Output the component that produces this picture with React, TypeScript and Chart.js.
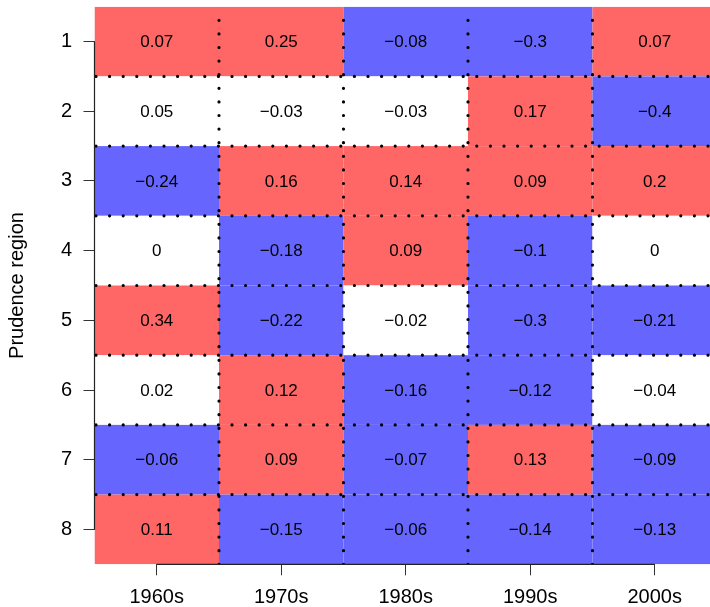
import { useEffect, useRef } from 'react';
import { Chart, registerables } from 'chart.js';

Chart.register(...registerables);

// ---- data ----
const decades = ['1960s', '1970s', '1980s', '1990s', '2000s'];
const regions = [1, 2, 3, 4, 5, 6, 7, 8];
// values per decade, listed for regions 1..8
const v1960s = [0.07, 0.05, -0.24, 0, 0.34, 0.02, -0.06, 0.11];
const v1970s = [0.25, -0.03, 0.16, -0.18, -0.22, 0.12, 0.09, -0.15];
const v1980s = [-0.08, -0.03, 0.14, 0.09, -0.02, -0.16, -0.07, -0.06];
const v1990s = [-0.3, 0.17, 0.09, -0.1, -0.3, -0.12, 0.13, -0.14];
const v2000s = [0.07, -0.4, 0.2, 0, -0.21, -0.04, -0.09, -0.13];
const valuesByDecade = [v1960s, v1970s, v1980s, v1990s, v2000s];
const threshold = 0.05;

const RED = '#FF6666';
const BLUE = '#6666FF';
const FONT = "'Liberation Sans', Arial, Helvetica, sans-serif";
const X_MAX = 5.444;

function fmt(v: number): string {
  return String(v).replace('-', '\u2212');
}

const heatmapPlugin = {
  id: 'heatmap',
  beforeDatasetsDraw(chart: any) {
    const { ctx, chartArea, scales } = chart;
    const x = scales.x;
    const y = scales.y;
    const data = chart.data.datasets[0].data as any[];
    ctx.save();
    ctx.beginPath();
    ctx.rect(chartArea.left, chartArea.top, chartArea.right - chartArea.left, chartArea.bottom - chartArea.top);
    ctx.clip();
    // cells
    data.forEach((p) => {
      const x0 = x.getPixelForValue(p.x - 0.5);
      const x1 = x.getPixelForValue(p.x + 0.5);
      const y0 = y.getPixelForValue(p.y - 0.5);
      const y1 = y.getPixelForValue(p.y + 0.5);
      const col = p.v > threshold ? RED : p.v < -threshold ? BLUE : '#FFFFFF';
      ctx.fillStyle = col;
      ctx.fillRect(Math.min(x0, x1), Math.min(y0, y1), Math.abs(x1 - x0), Math.abs(y1 - y0));
    });
    // dotted grid lines at cell boundaries
    ctx.strokeStyle = '#000';
    ctx.lineWidth = 3.2;
    ctx.lineCap = 'round';
    ctx.setLineDash([0, 13.6]);
    const yb = y.getPixelForValue(regions.length + 0.5);
    const yt = y.getPixelForValue(0.5);
    for (let i = 1; i < decades.length; i++) {
      const px = x.getPixelForValue(i + 0.5);
      ctx.beginPath();
      ctx.moveTo(px, yb);
      ctx.lineTo(px, yt);
      ctx.stroke();
    }
    const xl = x.getPixelForValue(0.5) + 1.5;
    const xr = x.getPixelForValue(decades.length + 0.5);
    for (let j = 1; j < regions.length; j++) {
      const py = y.getPixelForValue(j + 0.5);
      ctx.beginPath();
      ctx.moveTo(xl, py);
      ctx.lineTo(xr, py);
      ctx.stroke();
    }
    ctx.setLineDash([]);
    // values
    ctx.fillStyle = '#000';
    ctx.font = `17px ${FONT}`;
    ctx.textAlign = 'center';
    ctx.textBaseline = 'middle';
    data.forEach((p) => {
      ctx.fillText(fmt(p.v), x.getPixelForValue(p.x), y.getPixelForValue(p.y) + 1);
    });
    ctx.restore();
  },
  afterDraw(chart: any) {
    const { ctx, scales } = chart;
    const x = scales.x;
    const y = scales.y;
    ctx.save();
    ctx.strokeStyle = '#222';
    ctx.lineWidth = 1.2;
    const bottom = y.getPixelForValue(regions.length + 0.5);
    ctx.beginPath();
    ctx.moveTo(x.getPixelForValue(1), bottom);
    ctx.lineTo(x.getPixelForValue(decades.length), bottom);
    ctx.stroke();
    const left = x.getPixelForValue(0.5);
    ctx.beginPath();
    ctx.moveTo(left, y.getPixelForValue(1));
    ctx.lineTo(left, y.getPixelForValue(regions.length));
    ctx.stroke();
    ctx.restore();
  },
};

export default function App() {
  const ref = useRef<HTMLCanvasElement | null>(null);
  useEffect(() => {
    if (!ref.current) return;
    const cells: any[] = [];
    valuesByDecade.forEach((vals, i) => {
      vals.forEach((v, j) => {
        cells.push({ x: i + 1, y: regions[j], v });
      });
    });
    const chart = new Chart(ref.current, {
      type: 'scatter',
      data: {
        datasets: [
          {
            data: cells,
            pointRadius: 0,
            pointHoverRadius: 0,
            showLine: false,
          } as any,
        ],
      },
      options: {
        animation: false,
        responsive: false,
        events: [],
        layout: { padding: { top: 6.7, right: 0, left: 0, bottom: 0 } },
        plugins: { legend: { display: false }, tooltip: { enabled: false } },
        scales: {
          x: {
            type: 'linear',
            min: 0.5,
            max: X_MAX,
            afterFit: (s: any) => {
              s.height = 42.7;
              s.paddingLeft = 0;
              s.paddingRight = 0;
            },
            afterBuildTicks: (s: any) => {
              s.ticks = decades.map((_, i) => ({ value: i + 1 }));
            },
            ticks: {
              callback: (v: any) => decades[Number(v) - 1] ?? '',
              color: '#000',
              font: { family: FONT, size: 20 },
              padding: 10,
              maxRotation: 0,
              autoSkip: false,
            },
            grid: { display: true, drawOnChartArea: false, drawTicks: true, tickLength: 11, color: '#333', lineWidth: 1 },
            border: { display: false },
          },
          y: {
            type: 'linear',
            min: 0.5,
            max: regions.length + 0.5,
            reverse: true,
            afterFit: (s: any) => {
              s.width = 94.5;
              s.paddingTop = 0;
              s.paddingBottom = 0;
            },
            afterBuildTicks: (s: any) => {
              s.ticks = regions.map((r) => ({ value: r }));
            },
            ticks: {
              callback: (v: any) => String(v),
              color: '#000',
              font: { family: FONT, size: 20 },
              padding: 11.5,
              autoSkip: false,
            },
            grid: { display: true, drawOnChartArea: false, drawTicks: true, tickLength: 11, color: '#333', lineWidth: 1 },
            border: { display: false },
            title: {
              display: true,
              text: 'Prudence region',
              color: '#000',
              font: { family: FONT, size: 20 },
              padding: { top: 5, bottom: 0 },
            },
          },
        },
      },
      plugins: [heatmapPlugin],
    });
    return () => chart.destroy();
  }, []);
  return (
    <div style={{ position: 'absolute', left: 0, top: 0, width: 710, height: 607 }}>
      <canvas ref={ref} width={710} height={607} />
    </div>
  );
}
